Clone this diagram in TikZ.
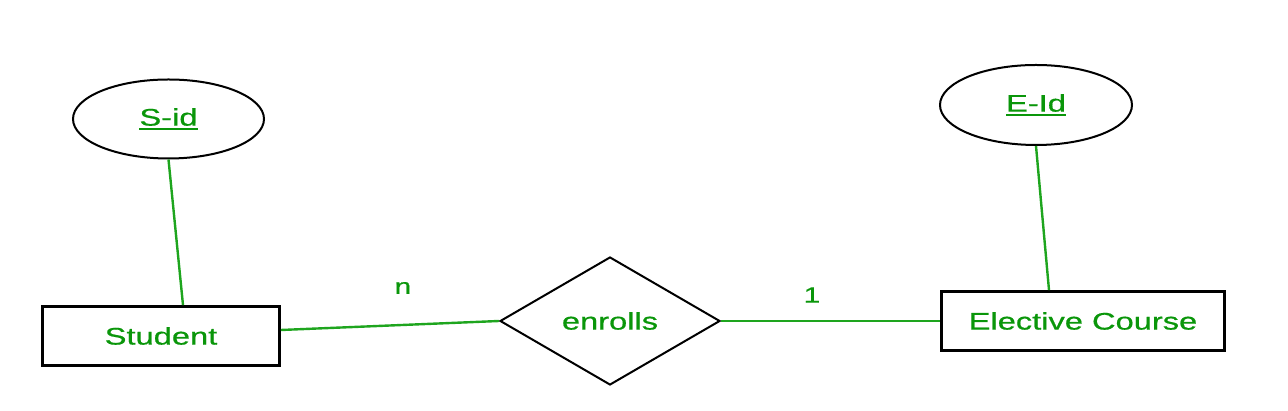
\documentclass[tikz,border=0pt]{standalone}
\usepackage{fontspec}
\setmainfont{Liberation Sans}
\newfontfamily\lblfont{Liberation Sans}[FakeBold=0.5]
\usetikzlibrary{shapes.geometric}
\definecolor{txtgreen}{RGB}{10,150,10}
\definecolor{lngreen}{RGB}{30,165,30}
\newcommand{\hs}[1]{\scalebox{1.36}[1]{#1}}
\newcommand{\myul}[1]{\vtop{\hbox{#1}\kern2.5pt\hrule height 1.4pt}}
\tikzset{
  lbl/.style={text=txtgreen, font=\lblfont\fontsize{24}{28}\selectfont, inner sep=0pt},
  entity/.style={draw=black, line width=2.8pt, minimum width=237pt, minimum height=59pt, inner sep=0pt, lbl},
  attrib/.style={draw=black, line width=2pt, ellipse, minimum width=191pt, minimum height=79pt, inner sep=0pt, lbl},
  relat/.style={draw=black, line width=2pt, diamond, aspect=1.72, minimum width=220pt, minimum height=128pt, inner sep=0pt, lbl},
  card/.style={text=txtgreen, font=\lblfont\fontsize{22}{26}\selectfont, inner sep=0pt},
  conn/.style={draw=lngreen, line width=2.4pt}
}
\begin{document}
\begin{tikzpicture}[x=1pt,y=1pt]
\useasboundingbox (0,0) rectangle (1288,411);
\node[attrib] (sid) at (168.5,292) {\hs{\myul{S-id}}};
\node[attrib, minimum width=192pt, minimum height=80pt] (eid) at (1036,306) {\hs{\myul{E-Id}}};
\node[entity] (st) at (161,75) {\hs{Student}};
\node[entity, minimum width=283pt] (ec) at (1083,90) {\hs{Elective Course}};
\node[relat] (en) at (610,90) {\hs{enrolls}};
\node[card] (n) at (403,123) {\hs{n}};
\node[card] (one) at (812,116) {\hs{1}};
\draw[conn] (sid.south) -- ([xshift=22pt]st.north);
\draw[conn] (eid.south) -- ([xshift=-34pt]ec.north);
\draw[conn] ([yshift=6pt]st.east) -- (en.west);
\draw[conn] (en.east) -- (ec.west);
\end{tikzpicture}
\end{document}
